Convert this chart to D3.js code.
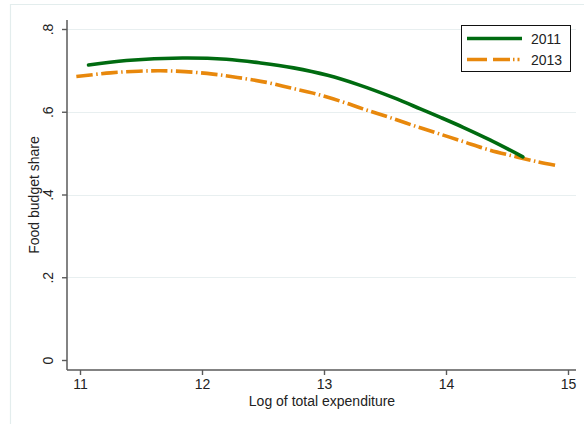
<!DOCTYPE html>
<html>
<head>
<meta charset="utf-8">
<script src="https://cdn.jsdelivr.net/npm/d3@7"></script>
<style>
  html, body { margin: 0; padding: 0; background: #fff; }
  svg { display: block; font-family: "Liberation Sans", Arial, sans-serif; }
</style>
</head>
<body>
<svg id="chart" width="584" height="424"></svg>
<script>
// Log of total expenditure (x) and food budget share (y), fitted curves per survey year
const years = ["2011", "2013"];
const expend2011 = [11.07, 11.38, 11.84, 12.2, 12.48, 12.75, 13.03, 13.28, 13.57, 13.79, 13.95, 14.14, 14.36, 14.63];
const share2011  = [0.713, 0.724, 0.730, 0.727, 0.718, 0.706, 0.688, 0.6655, 0.634, 0.607, 0.587, 0.5625, 0.532, 0.491];
const expend2013 = [10.97, 11.25, 11.48, 11.66, 11.86, 12.09, 12.29, 12.53, 12.72, 12.91, 13.13, 13.32, 13.53, 13.73, 13.93, 14.14, 14.34, 14.55, 14.75, 14.92];
const share2013  = [0.685, 0.694, 0.698, 0.699, 0.697, 0.691, 0.683, 0.671, 0.658, 0.645, 0.626, 0.607, 0.587, 0.567, 0.548, 0.528, 0.509, 0.493, 0.479, 0.469];
const xTicks = [11, 12, 13, 14, 15];
const yTicks = [0, 0.2, 0.4, 0.6, 0.8];
const yTickLabels = ["0", ".2", ".4", ".6", ".8"];

const svg = d3.select("#chart");

const x = d3.scaleLinear().domain([11, 15]).range([80, 568]);
const y = d3.scaleLinear().domain([0, 0.8]).range([360, 29]);
const plotLeft = 67, plotRight = 576, plotTop = 20, plotBottom = 370;

// outer graph region border
svg.append("path")
  .attr("d", `M10.5,424 V4.5 H584`)
  .attr("fill", "none").attr("stroke", "#e3eded").attr("stroke-width", 1.2);

// horizontal grid lines
svg.append("g").selectAll("line")
  .data(yTicks.filter(d => d > 0))
  .join("line")
  .attr("x1", plotLeft).attr("x2", plotRight)
  .attr("y1", d => Math.round(y(d)) + 0.5).attr("y2", d => Math.round(y(d)) + 0.5)
  .attr("stroke", "#e8eff0").attr("stroke-width", 1);

// axes
const axisColor = "#5a5a5a";
const gx = svg.append("g").attr("transform", `translate(0,${plotBottom})`)
  .call(d3.axisBottom(x).tickValues(xTicks).tickSize(5).tickPadding(4).tickFormat(d3.format("d")));
gx.select(".domain").remove();
gx.selectAll(".tick line").attr("stroke", axisColor).attr("stroke-width", 1.4);
gx.selectAll(".tick text").attr("font-size", 14).attr("fill", "#222")
  .attr("font-family", "Liberation Sans, Arial, sans-serif");

const gy = svg.append("g").attr("transform", `translate(${plotLeft},0)`)
  .call(d3.axisLeft(y).tickValues(yTicks).tickSize(5).tickFormat((d, i) => yTickLabels[i]));
gy.select(".domain").remove();
gy.selectAll(".tick line").attr("stroke", axisColor).attr("stroke-width", 1.4);
gy.selectAll(".tick text")
  .attr("font-size", 14).attr("fill", "#222")
  .attr("font-family", "Liberation Sans, Arial, sans-serif")
  .attr("text-anchor", "middle")
  .attr("dy", null)
  .attr("x", null)
  .attr("transform", "translate(-14,0) rotate(-90)");

// axis lines
svg.append("line").attr("x1", plotLeft).attr("x2", plotLeft).attr("y1", plotTop).attr("y2", plotBottom)
  .attr("stroke", axisColor).attr("stroke-width", 1.5);
svg.append("line").attr("x1", plotLeft).attr("x2", plotRight).attr("y1", plotBottom).attr("y2", plotBottom)
  .attr("stroke", axisColor).attr("stroke-width", 1.5);

// axis titles
svg.append("text").attr("x", 322).attr("y", 406)
  .attr("text-anchor", "middle").attr("font-size", 14).attr("fill", "#222")
  .text("Log of total expenditure");
svg.append("text").attr("transform", "translate(39,195) rotate(-90)")
  .attr("text-anchor", "middle").attr("font-size", 14).attr("fill", "#222")
  .text("Food budget share");

// curves
const green = "#006b10", orange = "#e8880c";
const line = d3.line().x(d => x(d[0])).y(d => y(d[1])).curve(d3.curveCatmullRom);

svg.append("path")
  .datum(d3.zip(expend2013, share2013))
  .attr("d", line).attr("fill", "none")
  .attr("stroke", orange).attr("stroke-width", 3.6)
  .attr("stroke-dasharray", "16.5,3.5,1.5,3.5");

svg.append("path")
  .datum(d3.zip(expend2011, share2011))
  .attr("d", line).attr("fill", "none")
  .attr("stroke", green).attr("stroke-width", 3.6)
  .attr("stroke-linecap", "round");

// legend
const lg = svg.append("g");
lg.append("rect").attr("x", 461.5).attr("y", 25.5).attr("width", 109).attr("height", 46)
  .attr("fill", "#fff").attr("stroke", "#111").attr("stroke-width", 1);
const legendItems = [
  { label: years[0], color: green, dash: null, y: 38.5 },
  { label: years[1], color: orange, dash: "20,6,17,3,1.5,3,2,10", y: 59.5 }
];
legendItems.forEach(it => {
  lg.append("line").attr("x1", 467).attr("x2", 522).attr("y1", it.y).attr("y2", it.y)
    .attr("stroke", it.color).attr("stroke-width", 3.4)
    .attr("stroke-dasharray", it.dash);
  lg.append("text").attr("x", 531).attr("y", it.y + 5.5)
    .attr("font-size", 14).attr("fill", "#222").text(it.label);
});
</script>
</body>
</html>
